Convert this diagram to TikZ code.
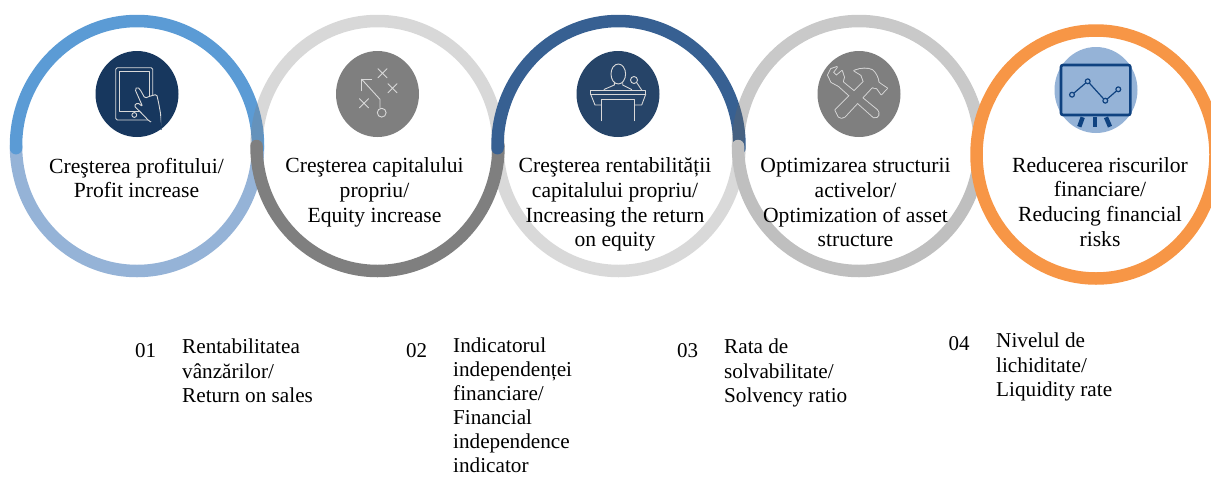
\documentclass[tikz,border=0pt]{standalone}
\usepackage{fontspec}
\setmainfont{Liberation Serif}
\usetikzlibrary{calc}
\definecolor{ringblue}{HTML}{5B9BD5}
\definecolor{ringpale}{HTML}{95B3D7}
\definecolor{ringnavy}{HTML}{376092}
\definecolor{ringorange}{HTML}{F79646}
\definecolor{iconnavy}{HTML}{17375E}
\definecolor{iconslate}{HTML}{264468}
\definecolor{icongray}{HTML}{7F7F7F}
\definecolor{iconboard}{HTML}{0F4280}
\tikzset{
	ring/.style={line width=12.5pt, line cap=round},
	iconline/.style={draw=white!85!black, line width=0.9pt, line join=round, line cap=round},
	boardline/.style={draw=iconboard, line width=1.2pt},
	headtext/.style={align=center, font=\fontsize{21.6}{24.8}\selectfont, inner sep=0pt},
	numtext/.style={font=\fontsize{21}{24}\selectfont, inner sep=0pt},
	listtext/.style={align=left, anchor=north west, font=\fontsize{21.2}{24.7}\selectfont, inner sep=0pt},
	longtext/.style={listtext, font=\fontsize{21.2}{23.9}\selectfont}
}
\def\ringarc[#1](#2)(#3:#4:#5:#6){\draw[ring,#1] ($(#2)+(#3:#5 and #6)$) arc (#3:#4:#5 and #6);}

\begin{document}
\begin{tikzpicture}[x=1pt, y=-1pt]
	%%%%% PAGE %%%%%
	\useasboundingbox (0, 0) rectangle (1211, 477);
	\clip (0, 0) rectangle (1211, 477);

	%%%%% RINGS %%%%%
	\ringarc[color=ringpale](137, 146)(0:180:121:125)
	\ringarc[color=ringblue](137, 146)(179:361:121:125)
	\ringarc[color=icongray, opacity=0.3](377.5, 146)(180:360:121:125)
	\ringarc[color=black!15](618.5, 146)(0:180:121:125)
	\ringarc[color=icongray](377.5, 146)(0:180:121:125)
	\ringarc[color=ringnavy](618.5, 146)(179:361:121:125)
	\ringarc[color=black!61, opacity=0.35](859, 146)(180:360:121:125)
	\ringarc[color=black!25](859, 146)(0:180:121:125)
	\draw[line width=12.5pt, color=ringorange, fill=white] (1096, 154.5) ellipse (119.5 and 124);

	%%%%% ICON DISCS %%%%%
	\fill[iconnavy] (137, 94) ellipse (41.5 and 43);
	\fill[icongray] (377.5, 94) ellipse (41.5 and 43);
	\fill[iconslate] (618, 94) ellipse (41.5 and 43);
	\fill[icongray] (859, 94) ellipse (41.5 and 43);
	\fill[ringpale] (1096, 90) ellipse (41.5 and 43);

	%%%%% TABLET %%%%%
	\begin{scope}[shift={(137, 94)}]
		\draw[iconline, rounded corners=1.5pt] (-21.3, -26.3) rectangle (15.7, 26);
		\draw[iconline] (-17.7, -22.3) rectangle (12.3, 17);
		\draw[iconline] (-2.7, 21) circle (2.4);
		\draw[iconline, fill=iconnavy, rounded corners=1.5pt] (-2, -4.7) -- (0.3, -7) -- (3, -4.7) -- (8, 4.3) -- (11.3, 2.7) -- (19.7, 0.3) -- (21.7, 9.3) -- (23.7, 20.3) -- (23.7, 33) -- (12, 27) -- (4.7, 19.3) -- (-3, 11.7) -- (0.7, 8.7) -- (5.7, 12.7) -- cycle;
		\fill[iconnavy] (13, 29) -- (23, 22) -- (24.6, 36) -- cycle;
	\end{scope}

	%%%%% PLAYS %%%%%
	\begin{scope}[shift={(377.5, 94)}]
		\draw[iconline] (-5.8, -14.7) -- (-15.8, -14.7) -- (-15.8, -3.3);
		\draw[iconline] (-15.8, -14.7) -- (2.5, 5.3) -- (2.5, 14.3);
		\draw[iconline] (4.2, 18.7) circle (4.4);
		\draw[iconline] (0.5, -25.2) -- (9.5, -16.2) (0.5, -16.2) -- (9.5, -25.2);
		\draw[iconline] (10.5, -10.2) -- (19.5, -1.2) (10.5, -1.2) -- (19.5, -10.2);
		\draw[iconline] (-18, 4.8) -- (-9, 13.8) (-18, 13.8) -- (-9, 4.8);
	\end{scope}

	%%%%% PODIUM %%%%%
	\begin{scope}[shift={(618, 94)}]
		\draw[iconline] (0.3, -20) ellipse (7.3 and 10);
		\draw[iconline] (-3.7, -11.5) -- (-3.7, -9) -- (-14, -4.5);
		\draw[iconline] (4.7, -11.5) -- (4.7, -9) -- (13.7, -4.5);
		\draw[iconline] (-27.3, -4) rectangle (27.7, 0.3);
		\draw[iconline] (-27.3, 0.3) -- (-23, 11) -- (23.7, 11) -- (27.7, 0.3);
		\draw[iconline, fill=iconslate] (-16.3, 26.7) -- (-16.3, 5.3) -- (16.3, 5.3) -- (16.3, 26.7);
		\draw[iconline] (16, -14) circle (3.5);
		\draw[iconline] (18.7, -11.4) -- (23.7, -4);
	\end{scope}

	%%%%% TOOLS %%%%%
	\begin{scope}[shift={(859, 94)}]
		\def\wrenchpath{(-22, -27) -- (-26, -21.7) -- (-22.7, -18.3) -- (-17, -23) -- (-15, -16.7) -- (-16.3, -12) -- (18, 16) .. controls (21, 19) and (20, 24) .. (14.7, 23.3) -- (-20.3, -8) -- (-27.7, -12) -- (-31, -19) -- (-28, -25) -- cycle}
		\def\hammerpath{(-23.7, 16) -- (1.3, -9) -- (4.7, -12.3) -- (2.3, -19) -- (-4.7, -23.3) .. controls (2, -26) and (9, -26) .. (13, -24) .. controls (17, -21) and (19, -16) .. (19.7, -11.3) -- (28, -5.7) -- (22.3, 0.3) -- (18, -5.7) -- (13, -6.7) -- (-14.3, 22.7) .. controls (-16, 24.2) and (-19, 24.2) .. (-20.3, 22.7) -- cycle}
		\draw[draw=white!85!black, line width=1.8pt, line join=round] \wrenchpath;
		\draw[draw=white!85!black, line width=1.8pt, line join=round] \hammerpath;
		\fill[icongray] \wrenchpath;
		\fill[icongray] \hammerpath;
	\end{scope}

	%%%%% BOARD %%%%%
	\begin{scope}[shift={(1096, 90)}]
		\draw[draw=iconboard, line width=2.6pt, rounded corners=2pt] (-35, -25) rectangle (34.3, 25);
		\draw[boardline] (-24, 4.7) -- (-8.3, -8.7) -- (9.3, 10.7) -- (22.3, -0.7);
		\draw[boardline, fill=ringpale] (-24, 4.7) circle (2.4);
		\draw[boardline, fill=ringpale] (-8.3, -8.7) circle (2.4);
		\draw[boardline, fill=ringpale] (9.3, 10.7) circle (2.4);
		\draw[boardline, fill=ringpale] (22.3, -0.7) circle (2.4);
		\draw[draw=iconboard, line width=4.4pt] (-13.3, 27.3) -- (-16.7, 36.7);
		\draw[draw=iconboard, line width=4.4pt] (-1.3, 27.3) -- (-1.3, 36.7);
		\draw[draw=iconboard, line width=4.4pt] (10, 27.3) -- (14, 36.7);
	\end{scope}

	%%%%% HEADINGS %%%%%
	\node[headtext] (profit) at (136.5, 178) {Creşterea profitului/\\Profit increase};
	\node[headtext] (equity) at (374.5, 192.5) {Creşterea capitalului\\propriu/\\Equity increase};
	\node[headtext] (returns) at (615, 204.5) {Creşterea rentabilității\\capitalului propriu/\\Increasing the return\\on equity};
	\node[headtext] (assets) at (855.5, 202.7) {Optimizarea structurii\\activelor/\\Optimization of asset\\structure};
	\node[headtext] (risks) at (1100, 202) {Reducerea riscurilor\\financiare/\\Reducing financial\\risks};

	%%%%% INDICATORS %%%%%
	\node[numtext] (num1) at (145.5, 350.5) {01};
	\node[listtext] (sales) at (182, 338.5) {Rentabilitatea\\vânzărilor/\\Return on sales};
	\node[numtext] (num2) at (416.5, 350.5) {02};
	\node[longtext] (indep) at (453, 338) {Indicatorul\\independenței\\financiare/\\Financial\\independence\\indicator};
	\node[numtext] (num3) at (687.5, 350.5) {03};
	\node[listtext] (solv) at (724, 338.5) {Rata de\\solvabilitate/\\Solvency ratio};
	\node[numtext] (num4) at (959, 343.5) {04};
	\node[listtext] (liq) at (996, 332.5) {Nivelul de\\lichiditate/\\Liquidity rate};
\end{tikzpicture}
\end{document}
